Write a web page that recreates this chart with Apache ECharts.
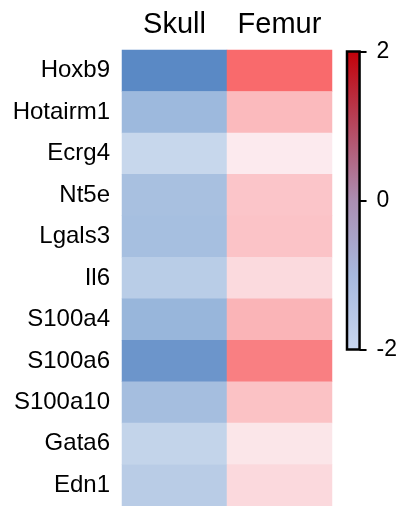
<!DOCTYPE html>
<html>
<head>
<meta charset="utf-8">
<script src="https://cdn.jsdelivr.net/npm/echarts@6/dist/echarts.min.js"></script>
<style>
  html, body { margin: 0; padding: 0; background: #fff; }
  #chart { width: 400px; height: 506px; }
</style>
</head>
<body>
<div id="chart"></div>
<script>
// Expression heatmap: two tissues x eleven genes, with a colour scale bar.
const tissues = ['Skull', 'Femur'];
const genes = ['Hoxb9', 'Hotairm1', 'Ecrg4', 'Nt5e', 'Lgals3', 'Il6',
               'S100a4', 'S100a6', 'S100a10', 'Gata6', 'Edn1'];
const skullValues = [-1.6, -0.76, -0.25, -0.64, -0.66, -0.42, -0.82, -1.38, -0.68, -0.3, -0.43];
const femurValues = [1.6, 0.76, 0.25, 0.64, 0.66, 0.42, 0.82, 1.38, 0.68, 0.3, 0.43];
const scaleTicks = [-2, 0, 2];

const scaleMin = scaleTicks[0];
const scaleMax = scaleTicks[scaleTicks.length - 1];

// Blue ramp below zero, red ramp above it.
function cellColor(v) {
  const clamp = x => Math.max(0, Math.min(255, Math.round(x)));
  let r, g, b;
  if (v < 0) {
    const d = -v;
    r = 219 - 80.7 * d; g = 229 - 57.8 * d; b = 243 - 28.9 * d;
  } else {
    const d = v;
    r = 252 - 2 * d; g = 258 - 95 * d; b = 262 - 96 * d;
  }
  return 'rgb(' + clamp(r) + ',' + clamp(g) + ',' + clamp(b) + ')';
}
const rampColors = [];
for (let i = 0; i <= 80; i++) rampColors.push(cellColor(scaleMin + i * (scaleMax - scaleMin) / 80));

const cells = [];
genes.forEach((g, i) => {
  cells.push([0, i, skullValues[i]]);
  cells.push([1, i, femurValues[i]]);
});

const barGradient = new echarts.graphic.LinearGradient(0, 0, 0, 1, [
  { offset: 0, color: '#c20008' },
  { offset: 0.25, color: '#b6475e' },
  { offset: 0.5, color: '#ab8eb2' },
  { offset: 0.75, color: '#a7b9df' },
  { offset: 1, color: '#c8d6ef' }
]);

const font = 'Liberation Sans, Arial, Helvetica, sans-serif';
const chart = echarts.init(document.getElementById('chart'), null, { renderer: 'canvas' });
chart.setOption({
  backgroundColor: '#fff',
  animation: false,
  grid: [
    { left: 122, top: 50, width: 210, height: 457 },
    { left: 347, top: 51.5, width: 16, height: 298 }
  ],
  xAxis: [
    {
      type: 'category', gridIndex: 0, position: 'top', data: tissues,
      axisLine: { show: false }, axisTick: { show: false }, splitLine: { show: false },
      axisLabel: { interval: 0, fontSize: 29, color: '#000', fontFamily: font, margin: 11 }
    },
    {
      type: 'category', gridIndex: 1, data: [''],
      axisLine: { show: false }, axisTick: { show: false }, axisLabel: { show: false }
    }
  ],
  yAxis: [
    {
      type: 'category', gridIndex: 0, data: genes, inverse: true,
      axisLine: { show: false }, axisTick: { show: false }, splitLine: { show: false },
      axisLabel: { interval: 0, fontSize: 24, color: '#000', fontFamily: font, margin: 12 }
    },
    {
      type: 'value', gridIndex: 1, position: 'right', min: scaleMin, max: scaleMax, interval: 2,
      axisLine: { show: false }, splitLine: { show: false },
      axisTick: { show: true, length: 7, lineStyle: { color: '#000', width: 2 } },
      axisLabel: { fontSize: 23, color: '#000', fontFamily: font, margin: 17 }
    }
  ],
  visualMap: {
    show: false, type: 'continuous', seriesIndex: 0, dimension: 2,
    min: scaleMin, max: scaleMax, inRange: { color: rampColors }
  },
  series: [
    {
      type: 'heatmap', xAxisIndex: 0, yAxisIndex: 0, data: cells,
      itemStyle: { borderWidth: 0 }, emphasis: { disabled: true }
    },
    {
      type: 'custom', xAxisIndex: 1, yAxisIndex: 1, silent: true,
      data: [[0, scaleMin, scaleMax]],
      renderItem: function (params, api) {
        const top = api.coord([api.value(0), api.value(2)]);
        const bot = api.coord([api.value(0), api.value(1)]);
        const w = api.size([1, 0])[0];
        return {
          type: 'rect',
          shape: { x: top[0] - w / 2, y: top[1], width: w, height: bot[1] - top[1] },
          style: { fill: barGradient, stroke: '#000', lineWidth: 2.5 }
        };
      }
    }
  ]
});
</script>
</body>
</html>
